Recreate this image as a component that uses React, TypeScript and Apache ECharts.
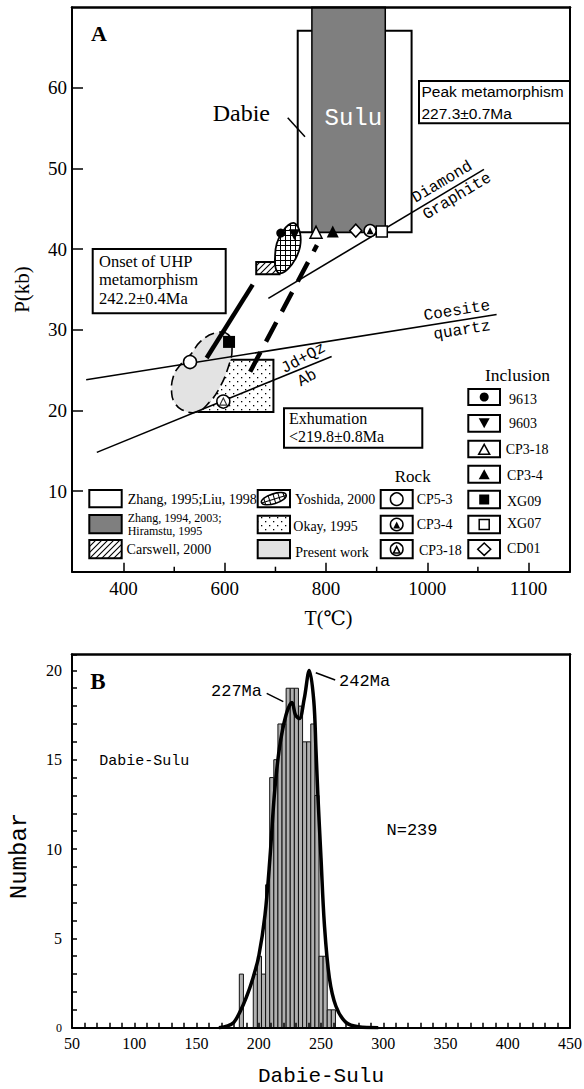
import React, { useEffect, useRef } from "react";
import * as echarts from "echarts";

const SERIF = "'Liberation Serif', 'DejaVu Serif', serif";
const MONO = "'Liberation Mono', 'DejaVu Sans Mono', monospace";
const SANS = "'Liberation Sans', 'DejaVu Sans', sans-serif";

// ---------------- Panel A: P-T diagram ----------------
const tTickValues = [400, 600, 800, 1000, 1200];
const tTickLabels = ["400", "600", "800", "1000", "1100"];
const tMinorTicks = [500, 700, 900, 1100];
const pTickValues = [10, 20, 30, 40, 50, 60];

const whiteBoxT = [744, 969];
const whiteBoxP = [42.1, 67.1];
const suluBoxT = [772, 917];
const suluBoxP = [42.1, 70];
const carswellT = [662, 708];
const carswellP = [36.9, 38.4];
const okayT = [548, 696];
const okayP = [19.8, 26.3];
const yoshidaOutline = [
  [738.7, 43.2], [748.6, 42.0], [748.6, 40.3], [738.7, 38.7], [725.5, 37.6], [709.1, 37.0],
  [700.6, 37.6], [699.2, 39.1], [702.6, 40.7], [712.4, 42.0], [725.5, 43.0],
];
const presentOutline = [
  [606.9, 29.4], [580.6, 29.6], [551, 28.5], [534.6, 27.1], [511.5, 25.6], [498.2, 24.2],
  [495, 22.1], [501.6, 20.9], [514.8, 20.1], [544.5, 19.8], [570.7, 21.1], [590.5, 22.9],
  [606.9, 25.4], [614.2, 27.5],
];
const diamondGraphite = [[686, 33.9], [1112, 49.9]];
const coesiteQuartz = [[326, 23.8], [1137, 31.9]];
const jdQzAb = [[347, 14.8], [811, 26.7]];
const progradePath = [[564, 26.5], [655, 35.6]];
const retrogradePath = [[650, 24.8], [782, 40.5]];

// inclusion samples
const inc9613 = [[710.5, 42.0]];
const inc9603 = [[737.4, 41.8]];
const incCP318 = [[780.2, 42.1]];
const incCP34 = [[813.2, 42.2]];
const incXG09 = [[608.3, 28.5]];
const incXG07 = [[910.1, 42.2]];
const incCD01 = [[858.7, 42.3]];
// rock samples
const rockCP53 = [[531.2, 26.0]];
const rockCP34 = [[887, 42.3]];
const rockCP318 = [[597, 21.1]];

// ---------------- Panel B: age histogram ----------------
const ageLabelValues = [50, 100, 150, 200, 250, 300, 350, 400, 450];
const countLabelValues = [0, 5, 10, 15, 20];
const binStarts = [184.4, 195.6, 198.9, 202.2, 205.5, 208.8, 212.1, 215.4, 218.7, 222.0, 225.3,
  228.6, 231.9, 235.2, 238.5, 241.8, 245.1, 248.4, 251.7, 255.0, 258.3];
const binCounts = [3, 3, 4, 3, 8, 14, 15, 17, 17, 19, 19, 19, 18, 16, 16, 17, 13, 4, 4, 1, 1];
const BIN_WIDTH = 3.3;
const curveAge = [168, 175, 180, 185, 190, 195, 200, 205, 209, 212.5, 216.5, 221.9, 226.7, 229.5,
  232.6, 236.5, 240.6, 244.2, 246, 247.5, 250, 252.7, 256.7, 262, 270, 280, 296];
const curveCount = [0, 0.1, 0.3, 0.9, 1.7, 2.7, 4.0, 6.3, 9.5, 13, 15.6, 17.5, 18.2, 17.5,
  17.3, 18.4, 20, 18.3, 15.5, 13, 9.5, 5.8, 2.8, 1.2, 0.3, 0.05, 0];

function makePattern(kind: string) {
  const size = kind === "dots" ? 8 : kind === "grid" ? 5 : 6;
  const c = document.createElement("canvas");
  c.width = size;
  c.height = size;
  const g = c.getContext("2d") as CanvasRenderingContext2D;
  g.fillStyle = "#fff";
  g.fillRect(0, 0, size, size);
  g.strokeStyle = "#000";
  g.fillStyle = "#000";
  if (kind === "hatch") {
    g.lineWidth = 1.1;
    g.beginPath();
    g.moveTo(-1, size + 1);
    g.lineTo(size + 1, -1);
    g.moveTo(-1, 1);
    g.lineTo(1, -1);
    g.moveTo(size - 1, size + 1);
    g.lineTo(size + 1, size - 1);
    g.stroke();
  } else if (kind === "grid") {
    g.lineWidth = 1;
    g.beginPath();
    g.moveTo(0.5, 0);
    g.lineTo(0.5, size);
    g.moveTo(0, 0.5);
    g.lineTo(size, 0.5);
    g.stroke();
  } else {
    g.fillRect(1, 1, 1.3, 1.3);
    g.fillRect(5, 5, 1.3, 1.3);
  }
  return { image: c.toDataURL(), repeat: "repeat", imageWidth: size, imageHeight: size };
}

const txt = (x: number, y: number, text: string, font: string, o: any = {}) => ({
  type: "text",
  x,
  y,
  rotation: o.rotation || 0,
  z: 100,
  silent: true,
  style: {
    text,
    font,
    fill: o.fill || "#000",
    textAlign: o.align || "left",
    textVerticalAlign: "middle",
    align: o.align || "left",
    verticalAlign: "middle",
  },
});
const box = (x: number, y: number, w: number, h: number, fill: any = "#fff", lw = 2) => ({
  type: "rect",
  z: 100,
  silent: true,
  shape: { x, y, width: w, height: h },
  style: { fill, stroke: "#000", lineWidth: lw },
});
const seg = (x1: number, y1: number, x2: number, y2: number, lw = 1.5) => ({
  type: "line",
  z: 100,
  silent: true,
  shape: { x1, y1, x2, y2 },
  style: { stroke: "#000", lineWidth: lw },
});
const tri = (cx: number, cy: number, w: number, h: number, fill: string, down = false) => ({
  type: "polygon",
  z: 101,
  silent: true,
  shape: {
    points: down
      ? [[cx - w / 2, cy - h / 2], [cx + w / 2, cy - h / 2], [cx, cy + h / 2]]
      : [[cx, cy - h / 2], [cx + w / 2, cy + h / 2], [cx - w / 2, cy + h / 2]],
  },
  style: { fill, stroke: "#000", lineWidth: fill === "#000" ? 0 : 1.5 },
});
const circ = (cx: number, cy: number, r: number, fill: string) => ({
  type: "circle",
  z: 101,
  silent: true,
  shape: { cx, cy, r },
  style: { fill, stroke: "#000", lineWidth: fill === "#000" ? 0 : 1.5 },
});

export default function App() {
  const ref = useRef<HTMLDivElement>(null);

  useEffect(() => {
    if (!ref.current) return;
    const chart = echarts.init(ref.current, undefined, { renderer: "svg" });
    const hatch = makePattern("hatch");
    const gridPat = makePattern("grid");
    const dots = makePattern("dots");

    const rectSeries = (T: number[], P: number[], style: any) => ({
      type: "custom",
      xAxisIndex: 0,
      yAxisIndex: 0,
      silent: true,
      data: [[T[0], P[0], T[1], P[1]]],
      renderItem: (_p: any, api: any) => {
        const a = api.coord([api.value(0), api.value(3)]);
        const b = api.coord([api.value(2), api.value(1)]);
        return { type: "rect", shape: { x: a[0], y: a[1], width: b[0] - a[0], height: b[1] - a[1] }, style };
      },
    });
    const polySeries = (pts: number[][], style: any, smooth: number) => ({
      type: "custom",
      xAxisIndex: 0,
      yAxisIndex: 0,
      silent: true,
      data: [pts[0]],
      renderItem: (_p: any, api: any) => ({
        type: "polygon",
        shape: { points: pts.map((p) => api.coord(p)), smooth },
        style,
      }),
    });
    const lineSeries = (data: number[][], width: number, type: any = "solid") => ({
      type: "line",
      xAxisIndex: 0,
      yAxisIndex: 0,
      silent: true,
      data,
      symbol: "none",
      lineStyle: { color: "#000", width, type, cap: "butt" },
    });
    const scatter = (data: number[][], symbol: string, size: number, fill: string, extra: any = {}) => ({
      type: "scatter",
      xAxisIndex: 0,
      yAxisIndex: 0,
      silent: true,
      z: 5,
      data,
      symbol,
      symbolSize: size,
      itemStyle: { color: fill, borderColor: "#000", borderWidth: fill === "#000" ? 0 : 1.5, opacity: 1 },
      ...extra,
    });

    const frameX = (gi: number, min: number, max: number) => ({
      type: "value", gridIndex: gi, position: "top", min, max, z: 10,
      axisLine: { show: true, onZero: false, lineStyle: { color: "#000", width: 2.5 } },
      axisTick: { show: false }, axisLabel: { show: false }, splitLine: { show: false },
    });
    const frameY = (gi: number, min: number, max: number) => ({
      type: "value", gridIndex: gi, position: "right", min, max, z: 10,
      axisLine: { show: true, onZero: false, lineStyle: { color: "#000", width: 2 } },
      axisTick: { show: false }, axisLabel: { show: false }, splitLine: { show: false },
    });

    const legendGraphics: any[] = [
      // column 1
      box(89.3, 490, 32.4, 17.3, "#fff"),
      txt(127.7, 499, "Zhang, 1995;Liu, 1998", `14px ${SERIF}`),
      box(89.3, 515, 32.4, 18.3, "#7f7f7f"),
      txt(127.7, 517.5, "Zhang, 1994, 2003;", `12px ${SERIF}`),
      txt(127.7, 530.5, "Hiramstu, 1995", `12px ${SERIF}`),
      box(89.3, 540, 32.4, 18.3, hatch),
      txt(126.6, 549, "Carswell, 2000", `14px ${SERIF}`),
      // column 2
      box(257.7, 490, 32.3, 17.3, "#fff"),
      {
        type: "ellipse", z: 101, silent: true, x: 273.8, y: 498.7, rotation: 0.3,
        shape: { cx: 0, cy: 0, rx: 13, ry: 5 },
        style: { fill: gridPat, stroke: "#000", lineWidth: 1.5 },
      },
      txt(295, 499, "Yoshida, 2000", `14px ${SERIF}`),
      box(257.7, 515.7, 32.3, 17.6, dots),
      txt(293.3, 526.7, "Okay, 1995", `14px ${SERIF}`),
      box(257.7, 540, 32.3, 18.3, "#e3e3e3"),
      txt(295.3, 552.7, "Present work", `14px ${SERIF}`),
      // rock
      txt(412.7, 476.7, "Rock", `17px ${SERIF}`, { align: "center" }),
      box(380.7, 490, 32, 18.3, "#fff"),
      circ(396.7, 499.2, 6.3, "#fff"),
      txt(416.7, 499, "CP5-3", `14px ${SERIF}`),
      box(380.7, 515.7, 32, 17.6, "#fff"),
      circ(396.7, 524.5, 6.3, "#fff"),
      tri(396.7, 525, 7, 7, "#000"),
      txt(416.7, 524, "CP3-4", `14px ${SERIF}`),
      box(380.7, 540, 32, 18.3, "#fff"),
      circ(396.7, 549.2, 6.3, "#fff"),
      tri(396.7, 549.8, 6.5, 6.5, "#fff"),
      txt(419, 550, "CP3-18", `14px ${SERIF}`),
      // inclusion
      txt(517.5, 375, "Inclusion", `17.5px ${SERIF}`, { align: "center" }),
      box(468.3, 389, 31.7, 16),
      circ(484.2, 397, 4.5, "#000"),
      txt(509, 399, "9613", `14px ${SERIF}`),
      box(468.3, 415, 31.7, 16.7),
      tri(484.2, 423.3, 11, 10, "#000", true),
      txt(509, 423.3, "9603", `14px ${SERIF}`),
      box(468.3, 440.7, 31.7, 16.6),
      tri(484.2, 449.3, 11, 10, "#fff"),
      txt(505.7, 449.3, "CP3-18", `14px ${SERIF}`),
      box(468.3, 465.7, 31.7, 17),
      tri(484.2, 474.2, 11, 10, "#000"),
      txt(507, 475, "CP3-4", `14px ${SERIF}`),
      box(468.3, 490.7, 31.7, 17.6),
      { type: "rect", z: 101, silent: true, shape: { x: 479.2, y: 494.5, width: 10, height: 10 }, style: { fill: "#000" } },
      txt(507, 501, "XG09", `14px ${SERIF}`),
      box(468.3, 515.7, 31.7, 17.6),
      { type: "rect", z: 101, silent: true, shape: { x: 479.2, y: 519.5, width: 10, height: 10 }, style: { fill: "#fff", stroke: "#000", lineWidth: 1.5 } },
      txt(507, 523.3, "XG07", `14px ${SERIF}`),
      box(468.3, 540, 31.7, 18.3),
      {
        type: "polygon", z: 101, silent: true,
        shape: { points: [[484.2, 543], [490.7, 549.2], [484.2, 555.4], [477.7, 549.2]] },
        style: { fill: "#fff", stroke: "#000", lineWidth: 1.5 },
      },
      txt(507, 548.3, "CD01", `14px ${SERIF}`),
    ];

    const annotationGraphics: any[] = [
      txt(99, 33.5, "A", `bold 22px ${SERIF}`, { align: "center" }),
      txt(241.3, 113.3, "Dabie", `24px ${SERIF}`, { align: "center" }),
      seg(287.7, 117.7, 305, 136.7),
      txt(353.3, 118.3, "Sulu", `24px ${MONO}`, { align: "center", fill: "#fff" }),
      box(419, 81, 151, 42.3),
      txt(421.5, 91, "Peak metamorphism", `15.5px ${SANS}`),
      txt(421.5, 113, "227.3±0.7Ma", `15.5px ${SANS}`),
      box(92.7, 249, 133, 64.3),
      txt(99, 261, "Onset of UHP", `16.5px ${SERIF}`),
      txt(99, 279.5, "metamorphism", `16.5px ${SERIF}`),
      txt(99, 298, "242.2±0.4Ma", `16.5px ${SERIF}`),
      box(284, 408.3, 138.3, 39.4),
      txt(289, 418, "Exhumation", `16px ${SERIF}`),
      txt(289, 436, "<219.8±0.8Ma", `16px ${SERIF}`),
      txt(442.3, 182.3, "Diamond", `16px ${MONO}`, { align: "center", rotation: 0.54 }),
      txt(457.3, 196.5, "Graphite", `16px ${MONO}`, { align: "center", rotation: 0.54 }),
      txt(457, 311, "Coesite", `16px ${MONO}`, { align: "center", rotation: 0.16 }),
      txt(462, 330.5, "quartz", `16px ${MONO}`, { align: "center", rotation: 0.16 }),
      txt(303.5, 358.5, "Jd+Qz", `16px ${MONO}`, { align: "center", rotation: 0.5 }),
      txt(307.3, 378.3, "Ab", `16px ${MONO}`, { align: "center", rotation: 0.5 }),
      // panel B
      txt(98, 681.7, "B", `bold 23px ${SERIF}`, { align: "center" }),
      txt(144.3, 761, "Dabie-Sulu", `15px ${MONO}`, { align: "center" }),
      txt(412, 830.7, "N=239", `17px ${MONO}`, { align: "center" }),
      txt(236.5, 691.7, "227Ma", `17px ${MONO}`, { align: "center" }),
      seg(266.7, 693.3, 283.3, 701.7),
      txt(364.6, 681.7, "242Ma", `17px ${MONO}`, { align: "center" }),
      seg(315.8, 672.7, 335.2, 680),
    ];

    const option: any = {
      animation: false,
      backgroundColor: "#fff",
      grid: [
        { left: 72, top: 7.3, width: 498, height: 564.4, containLabel: false, outerBoundsMode: "none" },
        { left: 72, top: 654.3, width: 498, height: 373.4, containLabel: false, outerBoundsMode: "none" },
      ],
      xAxis: [
        {
          type: "value", gridIndex: 0, position: "bottom", min: 298, max: 1282, z: 10,
          axisLine: { show: true, onZero: false, lineStyle: { color: "#000", width: 2 } },
          axisTick: { show: true, inside: true, length: 9, customValues: tTickValues, lineStyle: { color: "#000", width: 1.5 } },
          axisLabel: {
            customValues: tTickValues,
            formatter: (v: number) => tTickLabels[tTickValues.indexOf(v)] ?? "",
            color: "#000", fontSize: 19, fontFamily: SERIF, margin: 7,
          },
          splitLine: { show: false },
          name: "T(℃)", nameLocation: "middle", nameGap: 36, nameMoveOverlap: false,
          nameTextStyle: { color: "#000", fontSize: 20, fontFamily: SERIF, padding: [0, 0, 0, 15] },
        },
        frameX(0, 298, 1282),
        {
          type: "value", gridIndex: 1, position: "bottom", min: 50, max: 450, interval: 10, z: 10,
          axisLine: { show: true, onZero: false, lineStyle: { color: "#000", width: 2 } },
          axisTick: { show: true, inside: true, length: 5, lineStyle: { color: "#000", width: 1.5 } },
          axisLabel: { customValues: ageLabelValues, color: "#000", fontSize: 16, fontFamily: SERIF, margin: 8 },
          splitLine: { show: false },
          name: "Dabie-Sulu", nameLocation: "middle", nameGap: 38, nameMoveOverlap: false,
          nameTextStyle: { color: "#000", fontSize: 21, fontFamily: MONO },
        },
        frameX(1, 50, 450),
      ],
      yAxis: [
        {
          type: "value", gridIndex: 0, position: "left", min: 0, max: 70, interval: 10, z: 10,
          axisLine: { show: true, onZero: false, lineStyle: { color: "#000", width: 2 } },
          axisTick: { show: true, inside: true, length: 11, customValues: pTickValues, lineStyle: { color: "#000", width: 1.5 } },
          axisLabel: { customValues: pTickValues, color: "#000", fontSize: 19, fontFamily: SERIF, margin: 5 },
          splitLine: { show: false },
          name: "P(kb)", nameLocation: "middle", nameGap: 40, nameRotate: 90, nameMoveOverlap: false,
          nameTextStyle: { color: "#000", fontSize: 21, fontFamily: SERIF },
        },
        frameY(0, 0, 70),
        {
          type: "value", gridIndex: 1, position: "left", min: 0, max: 20.9, interval: 1, z: 10,
          axisLine: { show: true, onZero: false, lineStyle: { color: "#000", width: 2 } },
          axisTick: { show: true, inside: true, length: 5, lineStyle: { color: "#000", width: 1.5 } },
          axisLabel: {
            customValues: countLabelValues,
            formatter: (v: number) => (v === 0 ? "{s|0}" : String(v)),
            rich: { s: { fontSize: 12, fontFamily: SERIF, color: "#000" } },
            color: "#000", fontSize: 16, fontFamily: SERIF, margin: 10,
          },
          splitLine: { show: false },
          name: "Numbar", nameLocation: "middle", nameGap: 41, nameRotate: 90, nameMoveOverlap: false,
          nameTextStyle: { color: "#000", fontSize: 24, fontFamily: MONO, padding: [0, 30, 0, 0] },
        },
        frameY(1, 0, 20.9),
      ],
      series: [
        // minor ticks on T axis
        {
          type: "custom", xAxisIndex: 0, yAxisIndex: 0, silent: true, z: 10,
          data: tMinorTicks.map((v) => [v, 0]),
          renderItem: (_p: any, api: any) => {
            const p = api.coord([api.value(0), 0]);
            return { type: "line", shape: { x1: p[0], y1: p[1], x2: p[0], y2: p[1] - 5 }, style: { stroke: "#000", lineWidth: 1.5 } };
          },
        },
        rectSeries(whiteBoxT, whiteBoxP, { fill: "#fff", stroke: "#000", lineWidth: 2 }),
        rectSeries(suluBoxT, suluBoxP, { fill: "#7f7f7f", stroke: "#000", lineWidth: 1.5 }),
        rectSeries(okayT, okayP, { fill: dots, stroke: "#000", lineWidth: 2 }),
        polySeries(presentOutline, { fill: "#e3e3e3", stroke: "none" }, 0.45),
        lineSeries(coesiteQuartz, 1.6),
        lineSeries(jdQzAb, 1.6),
        lineSeries(diamondGraphite, 1.6),
        polySeries(presentOutline, { fill: "none", stroke: "#000", lineWidth: 1.6, lineDash: [10, 5] }, 0.45),
        rectSeries(carswellT, carswellP, { fill: hatch, stroke: "#000", lineWidth: 2 }),
        polySeries(yoshidaOutline, { fill: gridPat, stroke: "#000", lineWidth: 1.8 }, 0.45),
        lineSeries(progradePath, 4.5),
        lineSeries(retrogradePath, 4.5, [22, 12]),
        scatter(inc9613, "circle", 9, "#000"),
        scatter(inc9603, "triangle", 11, "#000", { symbolRotate: 180 }),
        scatter(incCP318, "triangle", 12, "#fff"),
        scatter(incCP34, "triangle", 12, "#000"),
        scatter(incXG09, "rect", 12, "#000"),
        scatter(incXG07, "rect", 11, "#fff"),
        scatter(incCD01, "diamond", [12, 13] as any, "#fff"),
        scatter(rockCP53, "circle", 13, "#fff"),
        scatter(rockCP34, "circle", 12, "#fff"),
        scatter(rockCP34, "triangle", 7, "#000", { z: 6 }),
        scatter(rockCP318, "circle", 13, "#fff"),
        scatter(rockCP318, "triangle", 7, "#fff", { z: 6, itemStyle: { color: "#fff", borderColor: "#000", borderWidth: 1.2 } }),
        // Panel B histogram
        {
          type: "custom", xAxisIndex: 2, yAxisIndex: 2, silent: true,
          data: binStarts.map((s, i) => [s, binCounts[i]]),
          renderItem: (_p: any, api: any) => {
            const a = api.coord([api.value(0), api.value(1)]);
            const b = api.coord([api.value(0) + BIN_WIDTH, 0]);
            return {
              type: "rect",
              shape: { x: a[0], y: a[1], width: b[0] - a[0], height: b[1] - a[1] },
              style: { fill: "#b0b0b0", stroke: "#111", lineWidth: 1 },
            };
          },
        },
        {
          type: "line", xAxisIndex: 2, yAxisIndex: 2, silent: true, z: 4,
          data: curveAge.map((a, i) => [a, curveCount[i]]),
          symbol: "none", smooth: 0.35,
          lineStyle: { color: "#000", width: 3.5 },
        },
      ],
      graphic: { elements: [...legendGraphics, ...annotationGraphics] },
    };

    chart.setOption(option);
    return () => chart.dispose();
  }, []);

  return (
    <div
      ref={ref}
      style={{ position: "absolute", left: 0, top: 0, width: 584, height: 1089, background: "#fff" }}
    />
  );
}
